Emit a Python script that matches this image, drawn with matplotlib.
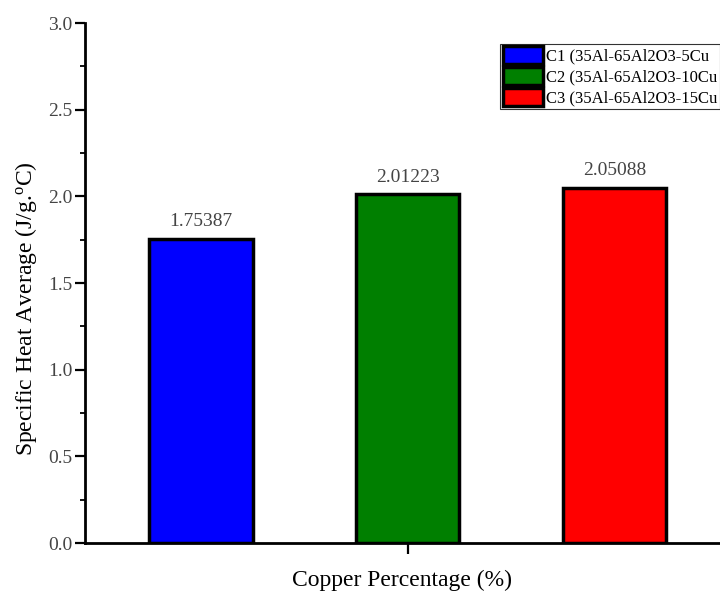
import numpy as np
import matplotlib.pyplot as plt
from matplotlib.ticker import MultipleLocator

plt.rcParams['font.family'] = ['Liberation Serif', 'DejaVu Serif']
plt.rcParams['mathtext.fontset'] = 'custom'
plt.rcParams['mathtext.rm'] = 'Liberation Serif'

# Specific heat averages for the three composites
samples = ['C1 (35Al-65Al2O3-5Cu', 'C2 (35Al-65Al2O3-10Cu', 'C3 (35Al-65Al2O3-15Cu']
heat_avg = [1.75387, 2.01223, 2.05088]
colors = ['#0000ff', '#007f00', '#ff0000']
positions = [1, 2, 3]

fig = plt.figure(figsize=(7.2, 5.93), dpi=100)
ax = fig.add_axes([0.118, 0.0843, 0.882, 0.8769])

bars = ax.bar(positions, heat_avg, width=0.5, color=colors, edgecolor='black',
              linewidth=2.5, label=samples, zorder=3)
for x, v in zip(positions, heat_avg):
    ax.text(x, v + 0.05, f'{v:.5f}', ha='center', va='bottom', fontsize=14, color='#444444')

ax.set_xlim(0.44, 3.51)
ax.set_ylim(0, 3.0)
ax.set_xticks([2])
ax.set_xticklabels([''])
ax.yaxis.set_major_locator(MultipleLocator(0.5))
ax.yaxis.set_minor_locator(MultipleLocator(0.25))
ax.tick_params(axis='y', which='major', length=7, width=1.6, labelsize=14, labelcolor='#444444', pad=2)
ax.tick_params(axis='y', which='minor', length=3.6, width=1.3)
ax.tick_params(axis='x', which='major', length=8, width=1.6)

for side in ['top', 'right']:
    ax.spines[side].set_visible(False)
for side in ['left', 'bottom']:
    ax.spines[side].set_linewidth(2)

ax.set_xlabel('Copper Percentage (%)', fontsize=17, labelpad=8)
ax.set_ylabel('Specific Heat Average (J/g.$\\mathrm{^o}$C)', fontsize=17)
ax.yaxis.set_label_coords(-0.072, 0.45)

leg = ax.legend(handles=bars.patches, labels=samples, loc='upper right',
                bbox_to_anchor=(1.0, 0.96), fontsize=12, frameon=True,
                fancybox=False, handlelength=2.4, handleheight=1.25,
                handletextpad=0.2, borderpad=0.15, labelspacing=0.15,
                borderaxespad=0)
leg.get_frame().set_edgecolor('black')
leg.get_frame().set_linewidth(0.8)

fig.savefig('out.png', dpi=100)
